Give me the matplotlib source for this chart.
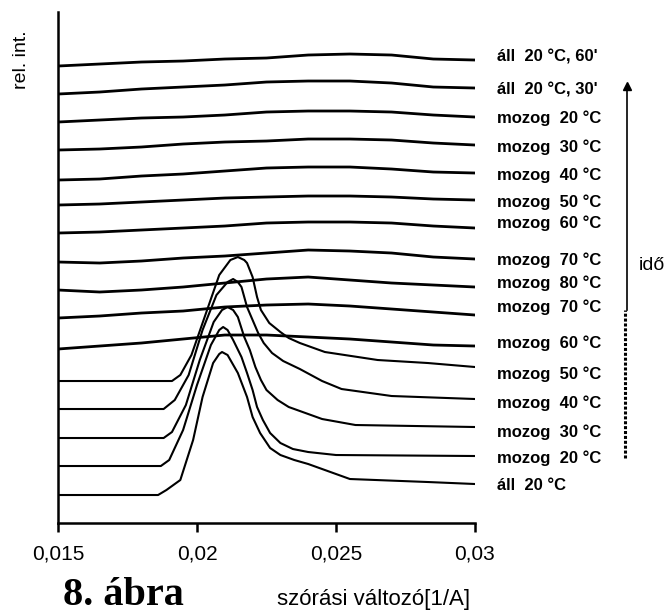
import numpy as np
import matplotlib
matplotlib.use("Agg")
import matplotlib.pyplot as plt

# x grid shared by the broad (gel-like) curves
x_broad = [0.015, 0.0165, 0.018, 0.0195, 0.021, 0.0225, 0.024, 0.0255, 0.027, 0.0285, 0.03]

# broad curves, top to bottom (rel. int., stacked)
all60 = [457, 459, 461, 462, 464, 465, 468, 469, 468, 464, 463]
all30 = [429, 431, 434, 436, 438, 441, 442, 442, 440, 436, 435]
moz20b = [401, 403, 405, 406, 408, 411, 412, 412, 411, 408, 406]
moz30b = [373, 374, 376, 379, 381, 382, 384, 384, 383, 380, 378]
moz40b = [343, 344, 347, 349, 352, 355, 356, 356, 354, 351, 350]
moz50b = [318, 319, 321, 323, 325, 326, 327, 327, 326, 324, 323]
moz60b = [290, 291, 293, 295, 297, 300, 301, 301, 300, 297, 295]
moz70b = [261, 260, 262, 265, 267, 270, 273, 272, 270, 266, 264]
moz80 = [233, 231, 233, 236, 240, 244, 246, 243, 240, 238, 236]
moz70a = [205, 207, 210, 212, 216, 218, 219, 217, 214, 211, 208]
moz60a = [174, 177, 180, 184, 188, 188, 186, 184, 181, 178, 177]
broad = [all60, all30, moz20b, moz30b, moz40b, moz50b, moz60b, moz70b, moz80, moz70a, moz60a]

# sharp-peak curves (liquid-like), each with its own x points
x_moz50a = [0.015, 0.0191, 0.0194, 0.0198, 0.0203, 0.0208, 0.0212, 0.02147, 0.0217, 0.0218, 0.022,
            0.02216, 0.0223, 0.0226, 0.023, 0.0233, 0.0237, 0.0246, 0.0265, 0.0283, 0.03]
y_moz50a = [142, 142, 148, 168, 208, 248, 263, 266, 263, 260, 246,
            226, 213, 200, 191, 185, 180, 171, 163, 160, 156]
x_moz40a = [0.015, 0.0188, 0.0192, 0.0197, 0.0202, 0.0207, 0.0211, 0.0213, 0.02147, 0.0216, 0.0218,
            0.022, 0.0222, 0.0224, 0.0227, 0.0231, 0.0237, 0.0245, 0.0252, 0.027, 0.03]
y_moz40a = [114, 114, 123, 148, 193, 228, 241, 244, 241, 236, 216,
            203, 190, 180, 170, 162, 154, 142, 134, 127, 124]
x_moz30a = [0.015, 0.0188, 0.0191, 0.0196, 0.0201, 0.0206, 0.0209, 0.0211, 0.0213, 0.02147, 0.0217,
            0.0219, 0.0221, 0.0223, 0.0225, 0.0229, 0.0233, 0.0237, 0.0245, 0.0257, 0.03]
y_moz30a = [85, 85, 91, 118, 163, 201, 213, 216, 213, 206, 186,
            173, 156, 143, 133, 123, 116, 112, 104, 98, 96]
x_moz20a = [0.015, 0.0187, 0.019, 0.0195, 0.02, 0.0205, 0.0208, 0.02094, 0.0211, 0.0213, 0.0216,
            0.0218, 0.022, 0.02216, 0.02237, 0.02263, 0.023, 0.02345, 0.024, 0.025, 0.03]
y_moz20a = [57, 57, 63, 93, 138, 178, 193, 196, 193, 183, 166,
            150, 133, 116, 103, 90, 80, 74, 71, 68, 67]
x_all20 = [0.015, 0.0186, 0.0189, 0.0194, 0.01986, 0.0202, 0.02058, 0.0208, 0.0209, 0.0211, 0.02147,
           0.0218, 0.022, 0.02227, 0.02263, 0.023, 0.0235, 0.024, 0.0246, 0.0255, 0.0283, 0.03]
y_all20 = [28, 28, 33, 43, 83, 126, 160, 169, 171, 168, 150,
           126, 106, 90, 75, 68, 63, 59, 53, 44, 41, 39]
sharp = [(x_moz50a, y_moz50a), (x_moz40a, y_moz40a), (x_moz30a, y_moz30a),
         (x_moz20a, y_moz20a), (x_all20, y_all20)]

labels = ["áll  20 °C, 60'", "áll  20 °C, 30'", "mozog  20 °C", "mozog  30 °C", "mozog  40 °C",
          "mozog  50 °C", "mozog  60 °C", "mozog  70 °C", "mozog  80 °C", "mozog  70 °C",
          "mozog  60 °C", "mozog  50 °C", "mozog  40 °C", "mozog  30 °C", "mozog  20 °C", "áll  20 °C"]
label_y = [466, 433, 405, 376, 348, 321, 300, 263, 240, 216, 180, 149, 120, 91, 65, 38]

xticks = [0.015, 0.02, 0.025, 0.03]
xtick_labels = ["0,015", "0,02", "0,025", "0,03"]

fig = plt.figure(figsize=(6.69, 6.13), dpi=100)
ax = fig.add_axes([0.0867, 0.1468, 0.6233, 0.8336])

for y in broad:
    ax.plot(x_broad, y, color='black', lw=2.0)
for xs, ys in sharp:
    ax.plot(xs, ys, color='black', lw=1.5)

ax.set_xlim(0.015, 0.03)
ax.set_ylim(0, 511)
ax.set_xticks(xticks)
ax.set_xticklabels(xtick_labels, fontsize=15, family='Liberation Sans')
ax.set_yticks([])
ax.tick_params(axis='x', length=6.5, width=1.8, pad=9, direction='out')
for s in ['top', 'right']:
    ax.spines[s].set_visible(False)
for s in ['left', 'bottom']:
    ax.spines[s].set_linewidth(1.8)

for lab, ly in zip(labels, label_y):
    ax.text(0.0308, ly, lab, fontsize=12, fontweight='bold', family='Liberation Sans',
            ha='left', va='center', clip_on=False)

# time arrow
ax.plot([0.03547, 0.03547], [213, 436], color='black', lw=1.2, clip_on=False)
ax.plot([0.03540, 0.03540], [65, 213], color='black', lw=2.2, ls=(0, (1, 0.6)), clip_on=False)
ax.plot([0.03547], [437], marker='^', color='black', ms=6, clip_on=False)
ax.text(0.0359, 258, 'idő', fontsize=14, family='Liberation Sans', ha='left', va='center')

fig.text(21 / 669, 1 - 60 / 613, 'rel. int.', rotation=90, fontsize=14,
         family='Liberation Sans', ha='center', va='center')
fig.text(374 / 669, 1 - 599 / 613, 'szórási változó[1/A]', fontsize=16,
         family='Liberation Sans', ha='center', va='center')
fig.text(63 / 669, 1 - 605 / 613, '8. ábra', fontsize=29, fontweight='bold',
         family='Liberation Serif', ha='left', va='baseline')

fig.savefig('out.png', dpi=100)
